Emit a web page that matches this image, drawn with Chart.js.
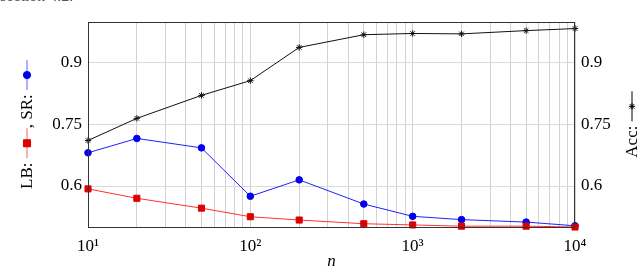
<!DOCTYPE html>
<html>
<head>
<meta charset="utf-8">
<script src="https://cdn.jsdelivr.net/npm/chart.js@4"></script>
<style>
  html, body { margin: 0; padding: 0; background: #fff; }
  #wrap { width: 640px; height: 272px; }
</style>
</head>
<body>
<div id="wrap"><canvas id="chart" width="640" height="272"></canvas></div>
<script>
// data
const nValues = [10, 20, 50, 100, 200, 500, 1000, 2000, 5000, 10000];
const accValues = [0.711, 0.765, 0.821, 0.857, 0.938, 0.969, 0.972, 0.971, 0.979, 0.984];
const srValues = [0.681, 0.716, 0.693, 0.575, 0.615, 0.556, 0.526, 0.518, 0.512, 0.503];
const lbValues = [0.593, 0.570, 0.546, 0.525, 0.517, 0.508, 0.505, 0.502, 0.502, 0.500];

const yTickValues = [0.6, 0.75, 0.9];
const xMajorTicks = [10, 100, 1000, 10000];
const xTickLabels = ['10¹', '10²', '10³', '10⁴'];

const toPoints = vals => nValues.map((n, i) => ({ x: n, y: vals[i] }));

Chart.defaults.font.family = '"Liberation Serif", "DejaVu Serif", serif';
Chart.defaults.font.size = 17;
Chart.defaults.color = '#000';

// titles on the y axes carry little legend marks, so they are drawn by hand
const decorPlugin = {
    id: 'decor',
    afterDraw(chart) {
        const ctx = chart.ctx;
        const area = chart.chartArea;
        const h = Chart.helpers;

        // frame round the plot
        ctx.save();
        ctx.strokeStyle = '#333';
        ctx.lineWidth = 1;
        ctx.strokeRect(Math.round(area.left) + 0.5, Math.round(area.top) + 0.5,
            Math.round(area.right - area.left) - 1, Math.round(area.bottom - area.top));
        ctx.restore();

        // cut-off text line of the page above the figure
        ctx.save();
        ctx.font = '16px "Liberation Serif", serif';
        ctx.fillStyle = '#555';
        ctx.textBaseline = 'alphabetic';
        ctx.fillText('section 4.2.', 0, 1);
        ctx.restore();

        const drawTitle = (cx, cy, parts) => {
            ctx.save();
            ctx.font = '17px "Liberation Serif", serif';
            const segLen = 30;
            let total = 0;
            parts.forEach(p => {
                total += p.text !== undefined ? ctx.measureText(p.text).width : segLen;
            });
            ctx.translate(cx, cy);
            ctx.rotate(-Math.PI / 2);
            ctx.textBaseline = 'middle';
            let x = -total / 2;
            parts.forEach(p => {
                if (p.text !== undefined) {
                    ctx.fillStyle = '#000';
                    ctx.fillText(p.text, x, 1);
                    x += ctx.measureText(p.text).width;
                } else {
                    ctx.strokeStyle = p.line;
                    ctx.lineWidth = 1;
                    ctx.beginPath();
                    ctx.moveTo(x, 0);
                    ctx.lineTo(x + segLen, 0);
                    ctx.stroke();
                    ctx.fillStyle = p.color;
                    ctx.strokeStyle = p.color;
                    h.drawPoint(ctx, { pointStyle: p.style, radius: p.radius, rotation: 0, borderWidth: 1 },
                        x + segLen / 2, 0);
                    x += segLen;
                }
            });
            ctx.restore();
        };

        const midY = (area.top + area.bottom) / 2;
        drawTitle(27, midY, [
            { text: 'LB: ' },
            { line: '#f06060', color: '#dd0000', style: 'rect', radius: 5 },
            { text: ', SR: ' },
            { line: '#6060ff', color: '#0000ee', style: 'circle', radius: 3.6 }
        ]);
        drawTitle(632, midY, [
            { text: 'Acc: ' },
            { line: '#000', color: '#000', style: 'star', radius: 3.2 }
        ]);
    }
};

new Chart(document.getElementById('chart'), {
    type: 'line',
    data: {
        datasets: [
            {
                label: 'LB',
                data: toPoints(lbValues),
                yAxisID: 'y',
                borderColor: '#ff3030',
                backgroundColor: '#dd0000',
                borderWidth: 1,
                pointStyle: 'rect',
                pointRadius: 4.3,
                pointBorderWidth: 1,
                pointBorderColor: '#dd0000',
                clip: false
            },
            {
                label: 'SR',
                data: toPoints(srValues),
                yAxisID: 'y',
                borderColor: '#2020ff',
                backgroundColor: '#0000ee',
                borderWidth: 1,
                pointStyle: 'circle',
                pointRadius: 3.3,
                pointBorderWidth: 1,
                pointBorderColor: '#0000ee',
                clip: false
            },
            {
                label: 'Acc',
                data: toPoints(accValues),
                yAxisID: 'y1',
                borderColor: '#111',
                backgroundColor: '#111',
                borderWidth: 1,
                pointStyle: 'star',
                pointRadius: 3.2,
                pointBorderWidth: 1,
                pointBorderColor: '#111',
                clip: false
            }
        ]
    },
    options: {
        responsive: false,
        animation: false,
        layout: { padding: { top: 22, left: 0, right: 0, bottom: 0 } },
        plugins: {
            legend: { display: false },
            tooltip: { enabled: false }
        },
        scales: {
            x: {
                type: 'logarithmic',
                min: 10,
                max: 10000,
                afterBuildTicks: scale => {
                    const ticks = [];
                    for (let d = 10; d < 10000; d *= 10) {
                        for (let m = 1; m <= 9; m++) ticks.push({ value: m * d });
                    }
                    ticks.push({ value: 10000 });
                    scale.ticks = ticks;
                },
                afterFit: scale => { scale.height = 45; },
                grid: { color: '#d2d2d2', drawTicks: false },
                border: { display: false },
                ticks: {
                    autoSkip: false,
                    maxRotation: 0,
                    padding: 9,
                    callback: value => {
                        const i = xMajorTicks.indexOf(value);
                        return i >= 0 ? xTickLabels[i] : '';
                    }
                },
                title: {
                    display: true,
                    text: 'n',
                    padding: { top: 0, bottom: 0 },
                    font: { style: 'italic', size: 17 }
                }
            },
            y: {
                position: 'left',
                min: 0.5,
                max: 1.0,
                afterBuildTicks: scale => {
                    scale.ticks = yTickValues.map(v => ({ value: v }));
                },
                afterFit: scale => { scale.width = 88; },
                grid: { color: '#d9d9d9', drawTicks: false },
                border: { display: false },
                ticks: { padding: 6, callback: v => String(v) }
            },
            y1: {
                position: 'right',
                min: 0.5,
                max: 1.0,
                afterBuildTicks: scale => {
                    scale.ticks = yTickValues.map(v => ({ value: v }));
                },
                afterFit: scale => { scale.width = 65; },
                grid: { drawOnChartArea: false, drawTicks: false },
                border: { display: false },
                ticks: { padding: 6, callback: v => String(v) }
            }
        }
    },
    plugins: [decorPlugin]
});
</script>
</body>
</html>
